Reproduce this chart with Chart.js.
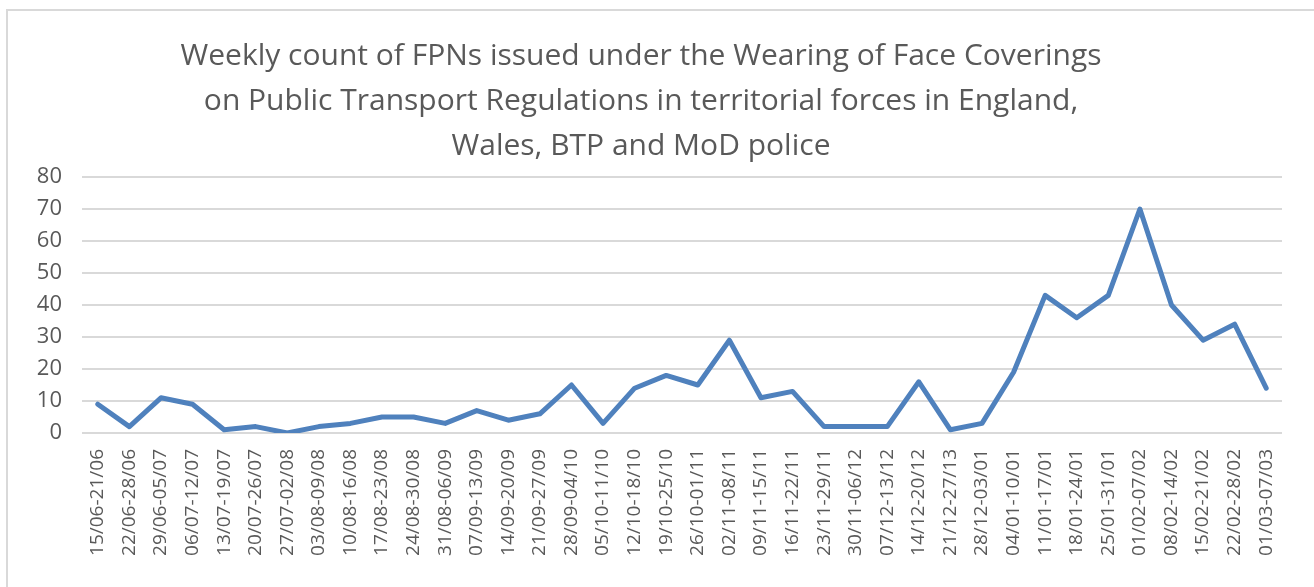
<!DOCTYPE html>
<html>
<head>
<meta charset="utf-8">
<script src="https://cdn.jsdelivr.net/npm/chart.js@4"></script>
<style>
  html, body { margin: 0; padding: 0; background: #fff; overflow: hidden; }
  #wrap { position: relative; width: 1314px; height: 587px; }
  #frame { position: absolute; left: 6px; top: 9px; width: 1400px; height: 700px; border: 2px solid #d9d9d9; }
  #grafico { position: absolute; left: 0; top: 0; }
</style>
</head>
<body>
<div id="wrap">
  <div id="frame"></div>
  <canvas id="grafico" width="1314" height="587"></canvas>
</div>
<script>
// semanas (etiquetas del eje x)
const semanas = ["15/06-21/06","22/06-28/06","29/06-05/07","06/07-12/07","13/07-19/07","20/07-26/07",
  "27/07-02/08","03/08-09/08","10/08-16/08","17/08-23/08","24/08-30/08","31/08-06/09","07/09-13/09",
  "14/09-20/09","21/09-27/09","28/09-04/10","05/10-11/10","12/10-18/10","19/10-25/10","26/10-01/11",
  "02/11-08/11","09/11-15/11","16/11-22/11","23/11-29/11","30/11-06/12","07/12-13/12","14/12-20/12",
  "21/12-27/13","28/12-03/01","04/01-10/01","11/01-17/01","18/01-24/01","25/01-31/01","01/02-07/02",
  "08/02-14/02","15/02-21/02","22/02-28/02","01/03-07/03"];

// cantidad de FPNs por semana
const fpns = [9, 2, 11, 9, 1, 2, 0, 2, 3, 5, 5, 3, 7, 4, 6, 15, 3, 14, 18, 15,
  29, 11, 13, 2, 2, 2, 16, 1, 3, 19, 43, 36, 43, 70, 40, 29, 34, 14];

const titulo = [
  "Weekly count of FPNs issued under the Wearing of Face Coverings",
  "on Public Transport Regulations in territorial forces in England,",
  "Wales, BTP and MoD police"
];

const gris = "#595959";

//Gráfico de FPNs
const grafFpns = new Chart(
  document.querySelector("#grafico"),
  {
    type: "line",
    data: {
      labels: semanas,
      datasets: [{
        label: "FPNs",
        data: fpns,
        borderColor: "#4f81bd",
        backgroundColor: "#4f81bd",
        borderWidth: 5,
        pointRadius: 0,
        tension: 0,
        borderJoinStyle: "round",
        borderCapStyle: "round"
      }]
    },
    options: {
      responsive: false,
      animation: false,
      layout: { padding: { left: 0, right: 32, top: 0, bottom: 0 } },
      plugins: {
        legend: { display: false },
        tooltip: { enabled: false },
        title: {
          display: true,
          text: titulo,
          color: gris,
          font: { family: "'Open Sans', sans-serif", size: 30, weight: "normal", lineHeight: 1.5 },
          padding: { top: 34, bottom: 8 }
        }
      },
      scales: {
        x: {
          offset: true,
          grid: { display: false },
          border: { display: false },
          ticks: {
            color: gris,
            font: { family: "'Open Sans', sans-serif", size: 19 },
            minRotation: 90,
            maxRotation: 90,
            autoSkip: false,
            padding: 8
          },
          afterFit: (scale) => { scale.height = 154; }
        },
        y: {
          min: 0,
          max: 80,
          grid: { color: "#d9d9d9", lineWidth: 2, drawTicks: false },
          border: { display: false },
          ticks: {
            stepSize: 10,
            color: gris,
            font: { family: "'Open Sans', sans-serif", size: 22 },
            padding: 20
          },
          afterFit: (scale) => { scale.width = 82; }
        }
      }
    }
  }
);
</script>
</body>
</html>
